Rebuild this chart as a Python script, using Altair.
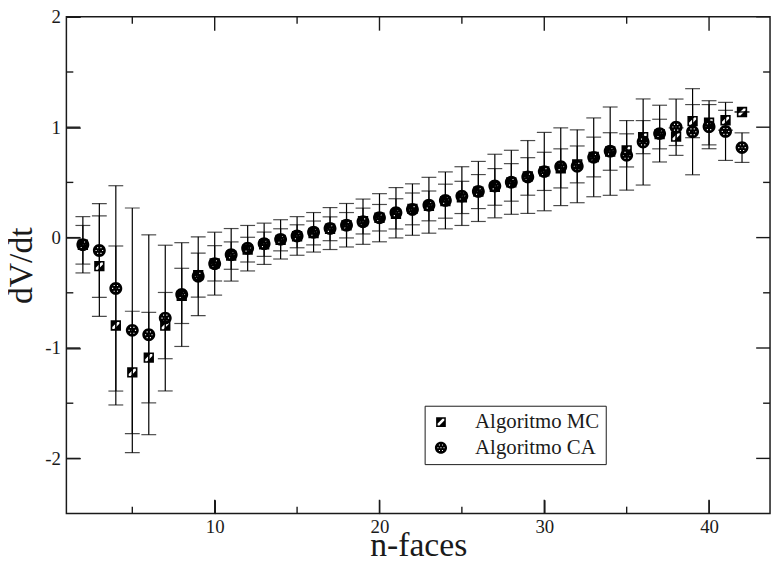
import altair as alt
import pandas as pd

# ---------------- data ----------------
n_faces = list(range(2, 43))

ca_mean = [-0.065, -0.117, -0.46, -0.84, -0.88, -0.729, -0.516, -0.35, -0.236, -0.156,
           -0.096, -0.056, -0.016, 0.015, 0.048, 0.082, 0.112, 0.144, 0.18, 0.225,
           0.254, 0.293, 0.337, 0.376, 0.418, 0.467, 0.501, 0.549, 0.598, 0.642,
           0.646, 0.727, 0.783, 0.745, 0.866, 0.942, 1.0, 0.959, 1.005, 0.962, 0.815]
ca_err = [0.255, 0.425, 0.93, 1.108, 0.905, 0.66, 0.47, 0.357, 0.285, 0.238,
          0.206, 0.187, 0.178, 0.175, 0.179, 0.19, 0.197, 0.205, 0.218, 0.228,
          0.233, 0.253, 0.258, 0.266, 0.272, 0.288, 0.29, 0.33, 0.355, 0.352,
          0.33, 0.357, 0.40, 0.315, 0.39, 0.257, 0.255, 0.39, 0.2, 0.263, 0.134]

mc_mean = [-0.065, -0.258, -0.796, -1.221, -1.087, -0.797, -0.528, -0.34, -0.233, -0.163,
           -0.109, -0.06, -0.02, 0.012, 0.042, 0.08, 0.112, 0.15, 0.18, 0.215,
           0.26, 0.287, 0.33, 0.364, 0.417, 0.459, 0.50, 0.554, 0.60, 0.627,
           0.663, 0.73, 0.78, 0.79, 0.91, 0.938, 0.914, 1.055, 1.04, 1.063, 1.138]
mc_err = [0.175, 0.455, 0.72, 0.554, 0.41, 0.30, 0.25, 0.2, 0.16, 0.124,
          0.112, 0.11, 0.10, 0.104, 0.108, 0.108, 0.115, 0.117, 0.12, 0.137,
          0.144, 0.135, 0.154, 0.146, 0.154, 0.166, 0.17, 0.17, 0.173, 0.177,
          0.167, 0.18, 0.17, 0.15, 0.15, 0.134, 0.08, 0.15, 0.2, 0.09, 0.0]

series_names = ["Algoritmo MC", "Algoritmo CA"]

x_major = [10, 20, 30, 40]
x_minor = [5, 15, 25, 35]
y_major = [-2, -1, 0, 1, 2]
y_minor = [-1.5, -0.5, 0.5, 1.5]

# ---------------- one table holding data rows and frame-tick rows ----------------
rows = []
for name, means, errs in [(series_names[0], mc_mean, mc_err), (series_names[1], ca_mean, ca_err)]:
    for n, m, e in zip(n_faces, means, errs):
        rows.append({"kind": "data", "n": n, "mean": m, "lo": m - e, "hi": m + e,
                     "series": name, "tv": None})
for kind, vals in [("xmaj", x_major), ("xmin", x_minor), ("ymaj", y_major), ("ymin", y_minor)]:
    for v in vals:
        rows.append({"kind": kind, "n": None, "mean": None, "lo": None, "hi": None,
                     "series": None, "tv": v})
df = pd.DataFrame(rows)

W, H = 711, 502
FONT = "Liberation Serif"
INK = "#1a1a1a"

# marker glyphs (unit box -1..1): hatched square and dotted sphere
MC_PATH = ("M-0.8,-0.8L0.8,-0.8L0.8,0.8L-0.8,0.8Z "
           "M-0.55,0.25L-0.55,0.55L-0.25,0.55L0.55,-0.25L0.55,-0.55L0.25,-0.55Z")
dots = [(0, 0), (0.5, 0), (-0.5, 0), (0.25, 0.45), (-0.25, 0.45), (0.25, -0.45), (-0.25, -0.45)]
d = 0.09
CA_PATH = "M-1,0A1,1,0,1,1,1,0A1,1,0,1,1,-1,0Z " + " ".join(
    f"M{cx - d:.2f},{cy - d:.2f}L{cx - d:.2f},{cy + d:.2f}L{cx + d:.2f},{cy + d:.2f}L{cx + d:.2f},{cy - d:.2f}Z"
    for cx, cy in dots)

xs = alt.Scale(domain=[1, 43.7], nice=False, zero=False)
ys = alt.Scale(domain=[-2.5, 2], nice=False, zero=False)

MINUS_FIX = "replace(datum.label, '\u2212', '-')"

# axes moved 14 px inside the frame, so their 14 px ticks point inward from the frame edge
xaxis = alt.Axis(values=x_major, ticks=True, tickSize=14, tickColor=INK, tickWidth=1.4,
                 offset={"expr": "-14"}, domain=False, grid=False, title="n-faces",
                 labelFont=FONT, labelFontSize=19, labelColor=INK, labelPadding=4,
                 labelExpr=MINUS_FIX,
                 titleFont=FONT, titleFontSize=34, titleFontWeight="normal", titleColor=INK,
                 titlePadding=-8)
yaxis = alt.Axis(values=y_major, ticks=True, tickSize=14, tickColor=INK, tickWidth=1.4,
                 offset={"expr": "-14"}, domain=False, grid=False, title="dV/dt",
                 labelFont=FONT, labelFontSize=19, labelColor=INK, labelPadding=6,
                 labelExpr=MINUS_FIX,
                 titleFont=FONT, titleFontSize=34, titleFontWeight="normal", titleColor=INK,
                 titlePadding=6)

base = alt.Chart(df)

# inward-pointing frame ticks on all four sides
def xticks(kind, length):
    sub = base.transform_filter(alt.datum.kind == kind)
    bot = sub.mark_rule(color=INK, strokeWidth=1.4).encode(
        x=alt.X("tv:Q", scale=xs, axis=xaxis), y=alt.value(H), y2=alt.value(H - length))
    top = sub.mark_rule(color=INK, strokeWidth=1.4).encode(
        x=alt.X("tv:Q", scale=xs, axis=xaxis), y=alt.value(0), y2=alt.value(length))
    return [bot, top]

def yticks(kind, length):
    sub = base.transform_filter(alt.datum.kind == kind)
    left = sub.mark_rule(color=INK, strokeWidth=1.4).encode(
        y=alt.Y("tv:Q", scale=ys, axis=yaxis), x=alt.value(0), x2=alt.value(length))
    right = sub.mark_rule(color=INK, strokeWidth=1.4).encode(
        y=alt.Y("tv:Q", scale=ys, axis=yaxis), x=alt.value(W), x2=alt.value(W - length))
    return [left, right]

frame_ticks = xticks("xmaj", 14) + xticks("xmin", 7) + yticks("ymaj", 14) + yticks("ymin", 7)

dat = base.transform_filter(alt.datum.kind == "data")

bars = dat.mark_rule(color="black", strokeWidth=1.2).encode(
    x=alt.X("n:Q", scale=xs, axis=xaxis),
    y=alt.Y("lo:Q", scale=ys, axis=yaxis),
    y2="hi:Q",
)
cap_lo = dat.mark_tick(color="black", orient="horizontal", size=15, thickness=1.2).encode(
    x=alt.X("n:Q", scale=xs, axis=xaxis),
    y=alt.Y("lo:Q", scale=ys, axis=yaxis),
)
cap_hi = dat.mark_tick(color="black", orient="horizontal", size=15, thickness=1.2).encode(
    x=alt.X("n:Q", scale=xs, axis=xaxis),
    y=alt.Y("hi:Q", scale=ys, axis=yaxis),
)
points = dat.mark_point(filled=True, color="black", opacity=1, size=170).encode(
    x=alt.X("n:Q", scale=xs, axis=xaxis),
    y=alt.Y("mean:Q", scale=ys, axis=yaxis),
    shape=alt.Shape("series:N",
                    scale=alt.Scale(domain=series_names, range=[MC_PATH, CA_PATH]),
                    legend=alt.Legend(orient="none", legendX=362, legendY=393, title=None,
                                      strokeColor=INK, fillColor="white", padding=6,
                                      labelFont=FONT, labelFontSize=21, labelColor=INK,
                                      symbolSize=150, symbolFillColor="black",
                                      symbolStrokeWidth=0, rowPadding=4, labelOffset=24)),
)

chart = alt.layer(*frame_ticks, bars, cap_lo, cap_hi, points).properties(
    width=W, height=H,
    autosize=alt.AutoSizeParams(type="none"),
    padding={"left": 59, "top": 6, "right": 3, "bottom": 45},
).configure_view(stroke=INK, strokeWidth=1.5).configure_axis(
    labelFont=FONT, titleFont=FONT
)

chart.save("out.html", embed_options={"renderer": "svg", "actions": False})
